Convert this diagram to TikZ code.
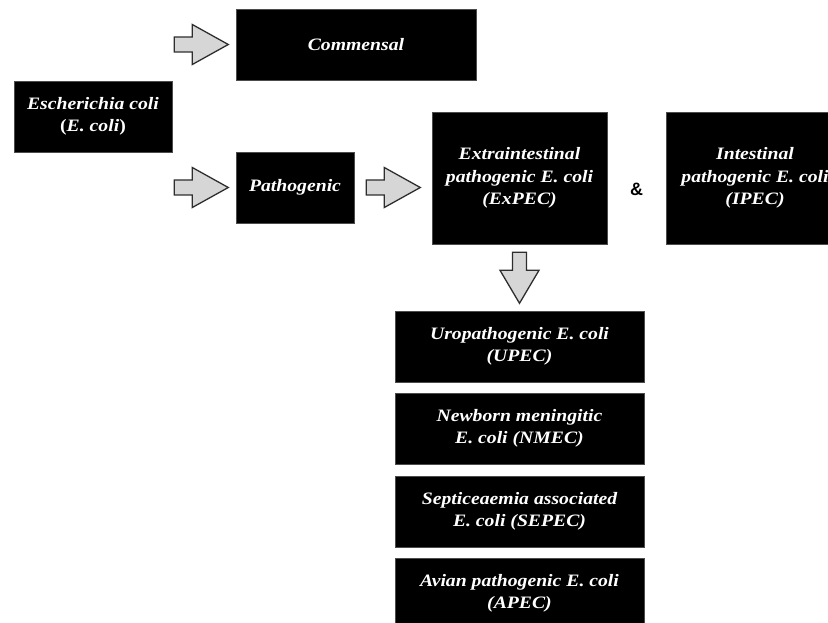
\documentclass[tikz,border=0pt]{standalone}
\usepackage{fontspec}
\setmainfont[FakeStretch=1.13]{Liberation Serif}
\newfontfamily\ampfont{Liberation Sans}
\usetikzlibrary{calc}
\definecolor{arrowfill}{HTML}{D6D6D6}
\definecolor{arrowline}{HTML}{2E2E2E}
\tikzset{
  x=1bp, y=-1bp,
  box/.style={fill=black, draw=black!70, line width=0.6bp, text=white, inner sep=0pt,
    align=center, font=\fontsize{17.5}{22.5}\selectfont\bfseries\itshape},
  blockarrow/.style={fill=arrowfill, draw=arrowline, line width=1.3bp, line join=miter},
  pics/rarrow/.style={code={
    \path[blockarrow] (0,-7.5) -- (18,-7.5) -- (18,-20) -- (54,0) -- (18,20) -- (18,7.5) -- (0,7.5) -- cycle;
  }},
  pics/darrow/.style={code={
    \path[blockarrow] (-7,0) -- (7,0) -- (7,18) -- (19.5,18) -- (0,51) -- (-19.5,18) -- (-7,18) -- cycle;
  }}
}
\begin{document}
\begin{tikzpicture}
\useasboundingbox (0,0) rectangle (828,623);
\clip (0,0) rectangle (828,623);
\node[box, minimum width=158bp, minimum height=71bp] (esc) at (93,116.5)
  {Escherichia coli\\{\upshape(}E. coli{\upshape)}};
\node[box, minimum width=240bp, minimum height=71bp] (comm) at (356,44.5) {Commensal};
\node[box, minimum width=118bp, minimum height=71bp] (path) at (295,187.5) {Pathogenic};
\node[box, minimum width=175bp, minimum height=132bp] (expec) at (519.5,178)
  {Extraintestinal\\pathogenic E. coli\\(ExPEC)};
\node[box, minimum width=178bp, minimum height=132bp] (ipec) at (755,178)
  {Intestinal\\pathogenic E. coli\\(IPEC)};
\node[font=\ampfont\bfseries\fontsize{18}{20}\selectfont, inner sep=0pt] (amp) at ($(expec.east)!0.5!(ipec.west)+(0,11)$) {\&};
\node[box, minimum width=249bp, minimum height=71bp] (upec) at (519.5,346.5)
  {Uropathogenic E. coli\\(UPEC)};
\node[box, minimum width=249bp, minimum height=71bp] (nmec) at (519.5,428.5)
  {Newborn meningitic\\E. coli (NMEC)};
\node[box, minimum width=249bp, minimum height=71bp] (sepec) at (519.5,511.5)
  {Septiceaemia associated\\E. coli (SEPEC)};
\node[box, minimum width=249bp, minimum height=71bp] (apec) at (519.5,593.5)
  {Avian pathogenic E. coli\\(APEC)};
\pic at ($(esc.east |- comm.west)+(2,0)$) {rarrow};
\pic at ($(esc.east |- path.west)+(2,0)$) {rarrow};
\pic at ($(path.east)+(12,0)$) {rarrow};
\pic at ($(expec.south)+(0,8)$) {darrow};
\end{tikzpicture}
\end{document}
